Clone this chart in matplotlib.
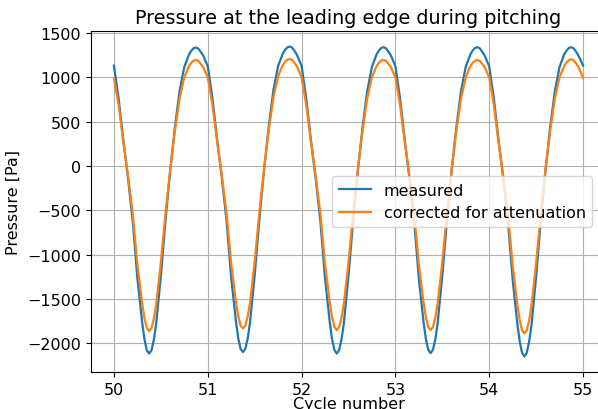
import numpy as np
import matplotlib
matplotlib.use("Agg")
import matplotlib.pyplot as plt
import matplotlib as mpl

### values, one row per pitching cycle
cycles = [50, 51, 52, 53, 54]
# sample positions within one cycle (fraction of the cycle)
phase = [0.0, 0.05, 0.10, 0.15, 0.20, 0.25, 0.30, 0.325, 0.35, 0.375, 0.40, 0.425,
         0.45, 0.50, 0.55, 0.60, 0.65, 0.70, 0.75, 0.80, 0.825, 0.85, 0.875, 0.90,
         0.925, 0.95]

measured_50 = [1133, 760, 290, -140, -620, -1270, -1760, -1955, -2080, -2117, -2080, -1960,
               -1780, -1240, -610, -50, 440, 850, 1120, 1260, 1302, 1330, 1337, 1325,
               1288, 1250]
measured_51 = [1125, 765, 295, -135, -615, -1265, -1750, -1945, -2065, -2100, -2065, -1950,
               -1770, -1235, -605, -45, 445, 860, 1130, 1270, 1314, 1340, 1349, 1335,
               1300, 1255]
measured_52 = [1130, 760, 290, -140, -620, -1270, -1760, -1955, -2078, -2117, -2078, -1960,
               -1780, -1240, -610, -50, 440, 850, 1120, 1262, 1305, 1333, 1341, 1328,
               1292, 1252]
measured_53 = [1128, 758, 288, -142, -622, -1272, -1762, -1952, -2075, -2112, -2074, -1958,
               -1778, -1238, -608, -48, 442, 852, 1122, 1262, 1306, 1333, 1341, 1327,
               1290, 1250]
measured_54 = [1125, 755, 285, -145, -628, -1285, -1785, -1980, -2108, -2150, -2108, -1985,
               -1800, -1250, -612, -50, 440, 850, 1120, 1262, 1305, 1333, 1341, 1328,
               1291, 1250]
measured_end = 1133

corrected_50 = [989, 685, 269, -112, -537, -1113, -1547, -1718, -1830, -1864, -1830, -1725,
                -1565, -1087, -528, -32, 402, 765, 1004, 1128, 1166, 1190, 1197, 1186,
                1153, 1120]
corrected_51 = [1000, 690, 274, -108, -532, -1105, -1530, -1695, -1802, -1833, -1802, -1700,
                -1545, -1080, -522, -28, 408, 775, 1015, 1140, 1177, 1200, 1208, 1195,
                1164, 1125]
corrected_52 = [1000, 685, 269, -112, -537, -1112, -1540, -1708, -1818, -1852, -1818, -1716,
                -1558, -1085, -528, -32, 402, 765, 1004, 1128, 1166, 1190, 1197, 1186,
                1153, 1120]
corrected_53 = [1002, 684, 268, -113, -538, -1112, -1541, -1709, -1819, -1852, -1817, -1716,
                -1557, -1084, -527, -31, 403, 766, 1005, 1129, 1167, 1190, 1197, 1185,
                1152, 1119]
corrected_54 = [1000, 682, 265, -116, -543, -1125, -1565, -1740, -1855, -1890, -1855, -1745,
                -1580, -1095, -530, -32, 402, 765, 1004, 1130, 1172, 1196, 1205, 1192,
                1159, 1122]
corrected_end = 995

mpl.rcParams.update({'font.size': 11.5})


def main():
    x = [c + p for c in cycles for p in phase] + [cycles[-1] + 1]
    measured = measured_50 + measured_51 + measured_52 + measured_53 + measured_54 + [measured_end]
    corrected = corrected_50 + corrected_51 + corrected_52 + corrected_53 + corrected_54 + [corrected_end]

    fig = plt.figure(figsize=(5.98, 4.10), dpi=100)
    # the reference is cropped on the right, so the axes run past the figure edge
    ax = fig.add_axes([90.5 / 598, 37 / 410, 516 / 598, 341 / 410])
    ax.plot(x, measured, label='measured', lw=1.6)
    ax.plot(x, corrected, label='corrected for attenuation', lw=1.6)
    ax.set_xticks(range(50, 56))
    ax.grid(True)
    ax.set_title('Pressure at the leading edge during pitching', fontsize=13.8)
    ax.set_xlabel('Cycle number', labelpad=-0.8)
    ax.set_ylabel('Pressure [Pa]')
    ax.legend(loc='center right', bbox_to_anchor=(0.972, 0.5), borderaxespad=0)
    fig.savefig('out.png', dpi=100)


if __name__ == "__main__":
    main()
